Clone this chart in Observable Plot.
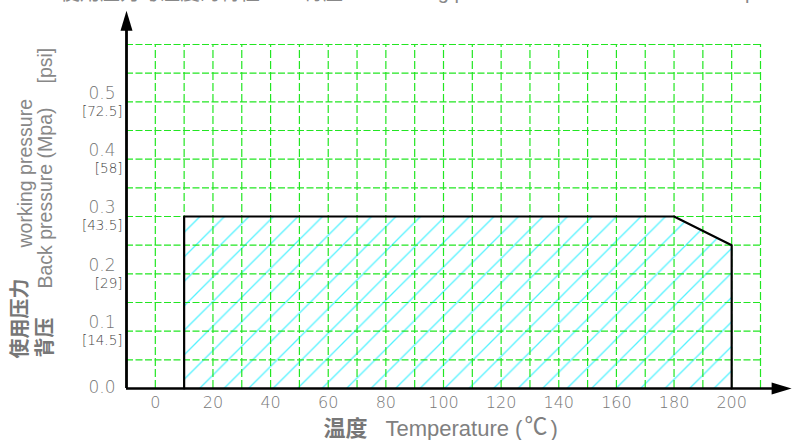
<!DOCTYPE html>
<html><head><meta charset="utf-8">
<script src="https://cdn.jsdelivr.net/npm/d3@7"></script>
<script src="https://cdn.jsdelivr.net/npm/@observablehq/plot@0.6"></script>
<style>
html,body{margin:0;padding:0;background:#fff;overflow:hidden}
#wrap{position:relative;width:792px;height:440px;overflow:hidden}
#chart{position:absolute;left:0;top:0}
.ttl{position:absolute;top:-18px;font-size:20px;line-height:20px;font-family:"Liberation Sans",Arial,sans-serif;color:#888;white-space:nowrap}
.cjk{font-family:"Noto Sans CJK SC",sans-serif}
</style></head><body>
<div id="wrap">
<div id="chart"></div>
<span class="ttl cjk" style="left:60px">使用压力与温度的特性</span>
<span class="ttl cjk" style="left:303px">背压</span>
<span class="ttl" style="left:380px">working pressure</span>
<span class="ttl" style="left:695px">Back pressure</span>
</div>
<script>
// polygon of the allowed working range (temperature °C, pressure MPa)
const temperature = [10, 10, 180, 200, 200];
const pressure = [0, 0.3, 0.3, 0.25, 0];

// tick labels
const xTicks = [0, 20, 40, 60, 80, 100, 120, 140, 160, 180, 200];
const yTicks = [0.1, 0.2, 0.3, 0.4, 0.5];
const yTickLabels = ["0.1", "0.2", "0.3", "0.4", "0.5"];
const psiLabels = ["[14.5]", "[29]", "[43.5]", "[58]", "[72.5]"];
const zeroLabel = ["0.0"];

// grid
const xGrid = d3.range(0, 23).map(i => -10 + i * 10);
const yGrid = d3.range(0, 13).map(i => +(i * 0.05).toFixed(2));

const region = temperature.map((t, i) => ({t, p: pressure[i]}));

const arrowHead = {
  draw(context) {
    context.moveTo(0, 0);
    context.lineTo(-6, 20);
    context.lineTo(6, 20);
    context.closePath();
  }
};

const tickFont = {fontFamily: "DejaVu Sans", fontWeight: 300};
const labelFont = "Liberation Sans, Noto Sans CJK SC, sans-serif";
const cjkFont = "Noto Sans CJK SC, sans-serif";
const gridColor = "#22e622";

const svg = Plot.plot({
  width: 792,
  height: 440,
  marginLeft: 126,
  marginRight: 32,
  marginTop: 44,
  marginBottom: 52,
  x: {domain: [-10, 210], axis: null},
  y: {domain: [0, 0.6], axis: null},
  style: {background: "white", overflow: "visible"},
  marks: [
    Plot.areaY(region, {x: "t", y: "p", fill: "url(#hatch)"}),
    Plot.ruleX(xGrid, {y1: 0, y2: 0.6, stroke: gridColor, strokeWidth: 1.2, strokeDasharray: "8,3"}),
    Plot.ruleY(yGrid, {x1: -10, x2: 210, stroke: gridColor, strokeWidth: 1.1, strokeDasharray: "7,2.5"}),
    Plot.line(region, {x: "t", y: "p", stroke: "black", strokeWidth: 2.2}),
    // axes with arrows
    Plot.ruleY([0], {x1: -10, x2: 215, stroke: "black", strokeWidth: 2.6}),
    Plot.ruleX([-10], {y1: 0, y2: 0.635, stroke: "black", strokeWidth: 2.8}),
    Plot.dot([{x: -10, y: 0.659}], {x: "x", y: "y", symbol: arrowHead, fill: "black", stroke: "none"}),
    Plot.dot([{x: 220.8, y: 0}], {x: "x", y: "y", symbol: arrowHead, fill: "black", stroke: "none", rotate: 90}),
    // x tick labels
    Plot.text(xTicks, {x: d => d, y: 0, dy: 14, text: d => String(d), fontSize: 16, fill: "#777", ...tickFont}),
    // y tick labels
    Plot.text(zeroLabel, {x: -10, y: 0, dx: -11, dy: -1, text: d => d, textAnchor: "end", fontSize: 17, fill: "#777", ...tickFont}),
    Plot.text(yTicks, {x: -10, y: d => d, dx: -11, dy: -8.5, text: (d, i) => yTickLabels[i], textAnchor: "end", fontSize: 17, fill: "#777", ...tickFont}),
    Plot.text(yTicks, {x: -10, y: d => d, dx: -4, dy: 9.5, text: (d, i) => psiLabels[i], textAnchor: "end", fontSize: 13.5, fill: "#444", ...tickFont}),
    // rotated y-axis titles
    Plot.text(["使用压力"], {frameAnchor: "bottom-left", dx: -100, dy: -30, rotate: -90, textAnchor: "start", fontSize: 20, fontWeight: "bold", fontFamily: cjkFont, fill: "#777"}),
    Plot.text(["working pressure"], {frameAnchor: "bottom-left", dx: -95, dy: -141, rotate: -90, textAnchor: "start", fontSize: 19.5, fontFamily: labelFont, fill: "#888"}),
    Plot.text(["背压"], {frameAnchor: "bottom-left", dx: -75, dy: -31, rotate: -90, textAnchor: "start", fontSize: 20, fontWeight: "bold", fontFamily: cjkFont, fill: "#777"}),
    Plot.text(["Back pressure (Mpa)"], {frameAnchor: "bottom-left", dx: -75, dy: -100, rotate: -90, textAnchor: "start", fontSize: 19.5, fontFamily: labelFont, fill: "#888"}),
    Plot.text(["[psi]"], {frameAnchor: "bottom-left", dx: -75, dy: -305, rotate: -90, textAnchor: "start", fontSize: 19.5, fontFamily: labelFont, fill: "#888"}),
    // x-axis title
    Plot.text(["温度"], {frameAnchor: "bottom-left", dx: 197, dy: 47, lineAnchor: "bottom", textAnchor: "start", fontSize: 22, fontWeight: "bold", fontFamily: cjkFont, fill: "#777"}),
    Plot.text(["Temperature ("], {frameAnchor: "bottom-left", dx: 259, dy: 47, lineAnchor: "bottom", textAnchor: "start", fontSize: 22, fontFamily: labelFont, fill: "#808080"}),
    Plot.text(["℃"], {frameAnchor: "bottom-left", dx: 398, dy: 45, lineAnchor: "bottom", textAnchor: "start", fontSize: 23, fontFamily: cjkFont, fill: "#808080"}),
    Plot.text([")"], {frameAnchor: "bottom-left", dx: 424, dy: 47, lineAnchor: "bottom", textAnchor: "start", fontSize: 22, fontFamily: labelFont, fill: "#808080"})
  ]
});

const defs = d3.select(svg).insert("defs", ":first-child");
const pat = defs.append("pattern")
  .attr("id", "hatch")
  .attr("patternUnits", "userSpaceOnUse")
  .attr("width", 24.5)
  .attr("height", 24.5);
pat.append("path")
  .attr("d", "M-2,2 L2,-2 M0,24.5 L24.5,0 M22.5,26.5 L26.5,22.5")
  .attr("stroke", "#55f2ff")
  .attr("stroke-width", 1.3)
  .attr("fill", "none");

document.getElementById("chart").appendChild(svg);
</script>
</body></html>
